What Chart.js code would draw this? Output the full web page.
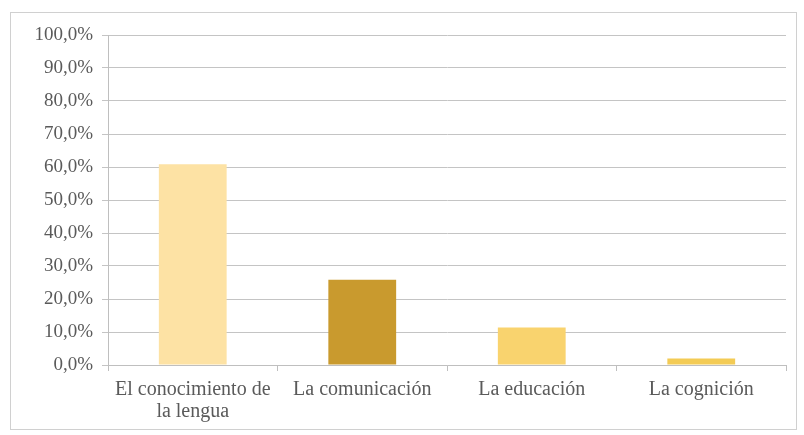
<!DOCTYPE html>
<html>
<head>
<meta charset="utf-8">
<script src="https://cdn.jsdelivr.net/npm/chart.js@4.4.0/dist/chart.umd.min.js"></script>
<style>
  html, body { margin: 0; padding: 0; background: #fff; }
  #frame {
    position: absolute; left: 10px; top: 12px;
    width: 785px; height: 416px;
    border: 1px solid #d0d0d0;
  }
</style>
</head>
<body>
<div id="frame"><canvas id="myChart"></canvas></div>
<script>
const categories = [['El conocimiento de', 'la lengua'], 'La comunicación', 'La educación', 'La cognición'];
const percentValues = [60.8, 25.8, 11.4, 2.0];
const barColors = ['#FDE2A4', '#C99A2E', '#F9D36E', '#F3CB55'];

let ctx = document.getElementById('myChart').getContext('2d');

let barChart = new Chart(ctx, {
  type: 'bar',
  data: {
    labels: categories,
    datasets: [{
      data: percentValues,
      backgroundColor: barColors,
      borderWidth: 0,
      barPercentage: 0.4,
      categoryPercentage: 1
    }]
  },
  options: {
    responsive: true,
    maintainAspectRatio: false,
    animation: false,
    layout: { padding: { top: 22, right: 10, left: 0, bottom: 0 } },
    plugins: {
      legend: { display: false },
      tooltip: { enabled: false }
    },
    scales: {
      x: {
        afterFit: (scale) => { scale.height = 64; },
        grid: {
          offset: true,
          drawOnChartArea: false,
          drawTicks: true,
          tickLength: 6,
          color: '#bfbfbf'
        },
        border: { color: '#bfbfbf' },
        ticks: {
          color: '#5a5a5a',
          padding: 8,
          font: { family: 'Liberation Serif', size: 20, lineHeight: 1.1 }
        }
      },
      y: {
        min: 0,
        max: 100,
        afterFit: (scale) => { scale.width = 97; },
        grid: {
          color: '#c4c4c4',
          tickLength: 6
        },
        border: { color: '#bfbfbf' },
        ticks: {
          stepSize: 10,
          color: '#5a5a5a',
          padding: 9,
          font: { family: 'Liberation Serif', size: 19 },
          callback: (v) => v.toFixed(1).replace('.', ',') + '%'
        }
      }
    }
  }
});
</script>
</body>
</html>
